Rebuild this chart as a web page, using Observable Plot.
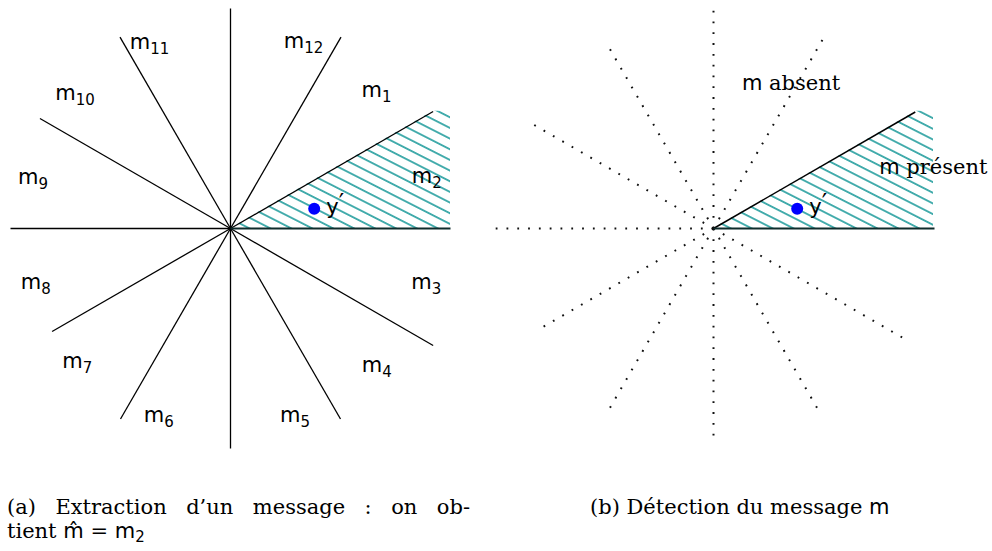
<!DOCTYPE html>
<html><head><meta charset="utf-8">
<script src="https://cdn.jsdelivr.net/npm/d3@7"></script>
<script src="https://cdn.jsdelivr.net/npm/@observablehq/plot@0.6"></script>
<style>
body{margin:0;background:#fff;}
#wrap{position:relative;width:992px;height:551px;overflow:hidden;background:#fff;}
#wrap svg{position:absolute;left:0;top:0;}
.cap{position:absolute;font-family:"DejaVu Serif";font-size:21px;line-height:24px;color:#000;}
.sf{font-family:"DejaVu Sans";}
.sub{font-family:"DejaVu Sans";font-size:15px;position:relative;top:4px;}
</style></head><body><div id="wrap"></div>
<script>
// ---- data (diagram units, origin at the left panel's centre) ----
const rayAngles = [0, 30, 60, 90, 120, 150, 180, 210, 240, 270, 300, 330];
const leftRayLengths = [220, 234, 221, 220, 221, 220, 220, 206, 220, 220, 220, 234];
const rightRayLengths = [221, 233, 218, 218, 215, 215, 218, 204, 215, 215, 215, 226];
const panelCentres = [0, 483];
const sectorNames = ["1","2","3","4","5","6","7","8","9","10","11","12"];
const sectorLabelAngles = [43.4, 14.9, -15.4, -43, -71, -111, -139, -164.5, 165.5, 139, 113.5, 68.7];
const sectorLabelRadii = [201, 203, 203, 200, 198, 200, 203, 202, 204, 206, 203, 201];
const hatchX = [0, 202.7, 220];
const hatchTop = [0, 117.3, 117.3];
const receivedPoint = [83.7, 19.7];
const receivedLabel = "y′";
const annotationTexts = ["m absent", "m présent"];
const annotationX = [28.4, 165.7];
const annotationY = [139, 55];

const rad = a => a * Math.PI / 180;
const rays = panelCentres.flatMap((cx, p) => rayAngles.map((a, i) => {
  const len = p === 0 ? leftRayLengths[i] : rightRayLengths[i];
  return {panel: p, idx: i, x1: cx, y1: 0, x2: cx + len * Math.cos(rad(a)), y2: len * Math.sin(rad(a))};
}));
const leftThin = rays.filter(d => d.panel === 0 && d.idx !== 0);
const baseRays = rays.filter(d => d.idx === 0);
const rightBound = rays.filter(d => d.panel === 1 && d.idx === 1);
const rightDotted = rays.filter(d => d.panel === 1 && d.idx > 1);
const hatch = panelCentres.flatMap((cx, p) => hatchX.map((x, i) => ({panel: p, x: cx + x, y2: hatchTop[i]})));
const sectors = sectorNames.map((n, i) => ({name: "m_" + n,
  x: sectorLabelRadii[i] * Math.cos(rad(sectorLabelAngles[i])),
  y: sectorLabelRadii[i] * Math.sin(rad(sectorLabelAngles[i]))}));
const points = panelCentres.map(cx => ({x: cx + receivedPoint[0], y: receivedPoint[1]}));
const annotations = annotationTexts.map((t, i) => ({text: t, x: panelCentres[1] + annotationX[i], y: annotationY[i]}));

const defs = () => {
  const g = document.createElementNS("http://www.w3.org/2000/svg", "g");
  g.innerHTML = `<defs><pattern id="hatch" patternUnits="userSpaceOnUse" width="20" height="9.5" patternTransform="rotate(27)">
    <line x1="-2" y1="4.75" x2="22" y2="4.75" stroke="#0f9595" stroke-width="1.5"/></pattern></defs>`;
  return g;
};

const chart = Plot.plot({
  width: 992, height: 480, margin: 0,
  x: {domain: [-230, 762], axis: null},
  y: {domain: [-252, 228], axis: null},
  style: {background: "#fff"},
  marks: [
    defs,
    Plot.areaY(hatch, {x: "x", y1: 0, y2: "y2", z: "panel", fill: "url(#hatch)", curve: "linear"}),
    Plot.link(leftThin, {x1: "x1", y1: "y1", x2: "x2", y2: "y2", stroke: "#000", strokeWidth: 1.3}),
    Plot.link(rightDotted, {x1: "x1", y1: "y1", x2: "x2", y2: "y2", stroke: "#111", strokeWidth: 2, strokeDasharray: "1.8,9", strokeLinecap: "butt"}),
    Plot.link(rightBound, {x1: "x1", y1: "y1", x2: "x2", y2: "y2", stroke: "#000", strokeWidth: 1.5}),
    Plot.link(baseRays, {x1: "x1", y1: "y1", x2: "x2", y2: "y2", stroke: "#0f2b2b", strokeWidth: 2}),
    Plot.dot(points, {x: "x", y: "y", r: 6, fill: "#0000ff", stroke: null}),
    Plot.text(points, {x: "x", y: "y", text: () => receivedLabel, dx: 12, dy: 5, lineAnchor: "bottom", textAnchor: "start", fontFamily: "DejaVu Sans", fontSize: 21, fill: "#000"}),
    Plot.text(sectors, {x: "x", y: "y", text: "name", textAnchor: "middle", fontFamily: "DejaVu Sans", fontSize: 21, fill: "#000"}),
    Plot.text(annotations, {x: "x", y: "y", text: "text", textAnchor: "start", lineAnchor: "bottom", fontFamily: "DejaVu Serif", fontSize: 21, fill: "#000"})
  ]
});
document.getElementById("wrap").appendChild(chart);

const NS = "http://www.w3.org/2000/svg";
d3.select(chart).selectAll("text").each(function() {
  const s = this.textContent;
  let m;
  if ((m = /^m_(\d+)$/.exec(s))) {
    this.textContent = "";
    const a = document.createElementNS(NS, "tspan"); a.textContent = "m"; this.appendChild(a);
    const b = document.createElementNS(NS, "tspan"); b.textContent = m[1];
    b.setAttribute("font-size", "15"); b.setAttribute("dy", "5"); this.appendChild(b);
  } else if ((m = /^m (.+)$/.exec(s))) {
    this.textContent = "";
    const a = document.createElementNS(NS, "tspan"); a.textContent = "m"; a.setAttribute("font-family", "DejaVu Sans"); this.appendChild(a);
    const b = document.createElementNS(NS, "tspan"); b.textContent = "\u00a0" + m[1]; this.appendChild(b);
  } else if (s === "y′") {
    this.textContent = "";
    const a = document.createElementNS(NS, "tspan"); a.textContent = "y"; this.appendChild(a);
    const b = document.createElementNS(NS, "tspan"); b.textContent = "′"; b.setAttribute("font-size", "24"); b.setAttribute("dy", "-3"); this.appendChild(b);
  }
});

const capA1 = document.createElement("div");
capA1.className = "cap";
capA1.style.cssText = "left:7px;top:495px;width:463px;text-align:justify;text-align-last:justify;";
capA1.textContent = "(a) Extraction d’un message : on ob-";
const capA2 = document.createElement("div");
capA2.className = "cap";
capA2.style.cssText = "left:7px;top:519px;white-space:nowrap;";
capA2.innerHTML = 'tient <span class="sf">m&#770;</span> = <span class="sf">m</span><span class="sub">2</span>';
const capB = document.createElement("div");
capB.className = "cap";
capB.style.cssText = "left:590px;top:495px;white-space:nowrap;";
capB.innerHTML = '(b) Détection du message <span class="sf">m</span>';
const wrap = document.getElementById("wrap");
wrap.appendChild(capA1); wrap.appendChild(capA2); wrap.appendChild(capB);
</script>
</body></html>
